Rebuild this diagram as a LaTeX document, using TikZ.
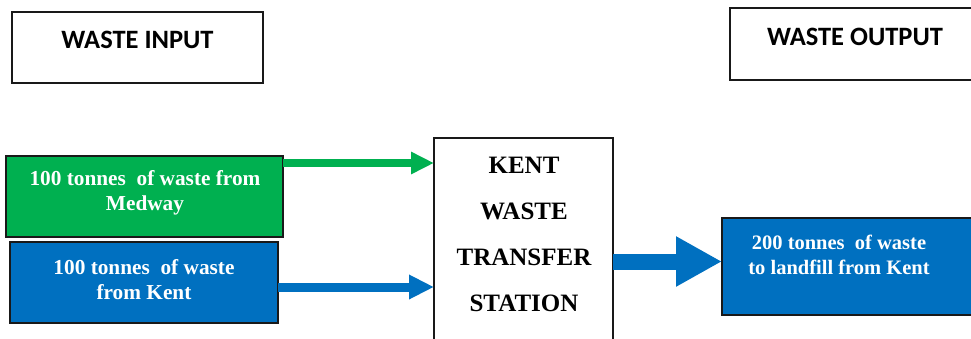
\documentclass[tikz,border=0pt]{standalone}
\usepackage{fontspec}
\setmainfont{Liberation Serif}
\newfontfamily\hdfont{Carlito}
\usetikzlibrary{arrows.meta}
\definecolor{mygreen}{HTML}{00B050}
\definecolor{myblue}{HTML}{0070C0}
\begin{document}
\begin{tikzpicture}[x=1pt,y=-1pt,
  box/.style={draw=black!90, line width=1.5pt, inner sep=0pt, outer sep=0pt},
  hdtext/.style={inner sep=0pt, font=\hdfont\bfseries\fontsize{26.5}{30}\selectfont},
  wtext/.style={inner sep=0pt, align=center, text=white, font=\bfseries\fontsize{21.3}{25}\selectfont},
  ctext/.style={inner sep=0pt, align=center, font=\bfseries\fontsize{25}{46}\selectfont},
  flow/.style={line width=#1}
]
\useasboundingbox (0,0) rectangle (971,338);
\clip (0,0) rectangle (971,338);
% header boxes
\node[box, minimum width=251pt, minimum height=71pt] (inbox) at (137.5,47.5) {};
\node[hdtext] (intext) at (137.5,40) {WASTE INPUT};
\node[box, minimum width=260pt, minimum height=72pt] (outbox) at (860,44) {};
\node[hdtext] (outtext) at (855,37) {WASTE OUTPUT};
% input boxes
\node[box, fill=mygreen, minimum width=277pt, minimum height=81pt] (gbox) at (144.5,196.5) {};
\node[wtext] (gtext) at (145,193) {100 tonnes~ of waste from\\Medway};
\node[box, fill=myblue, minimum width=268pt, minimum height=81pt] (bbox) at (144,282.5) {};
\node[wtext] (btext) at (144,280) {100 tonnes~ of waste\\from Kent};
% central station
\node[box, fill=white, minimum width=179pt, minimum height=222pt] (ctr) at (523.5,249) {};
\node[ctext] (ctrtext) at (524,234) {KENT\\WASTE\\TRANSFER\\STATION};
% output box
\node[box, fill=myblue, minimum width=268pt, minimum height=97pt] (rbox) at (856,266.5) {};
\node[wtext, font=\bfseries\fontsize{20.5}{25}\selectfont] (rtext) at (839,255) {200 tonnes~ of waste\\to landfill from Kent};
% arrows
\coordinate (gy) at (0,163);
\coordinate (by) at (0,287);
\coordinate (ry) at (0,261.5);
\draw[mygreen, flow=8pt, -{Triangle[length=23pt,width=21pt]}] (gbox.east |- gy) -- (ctr.west |- gy);
\draw[myblue, flow=9pt, -{Triangle[length=25pt,width=23pt]}] (bbox.east |- by) -- (ctr.west |- by);
\draw[myblue, flow=16pt, -{Triangle[length=46pt,width=47pt]}] (ctr.east |- ry) -- (rbox.west |- ry);
\end{tikzpicture}
\end{document}
